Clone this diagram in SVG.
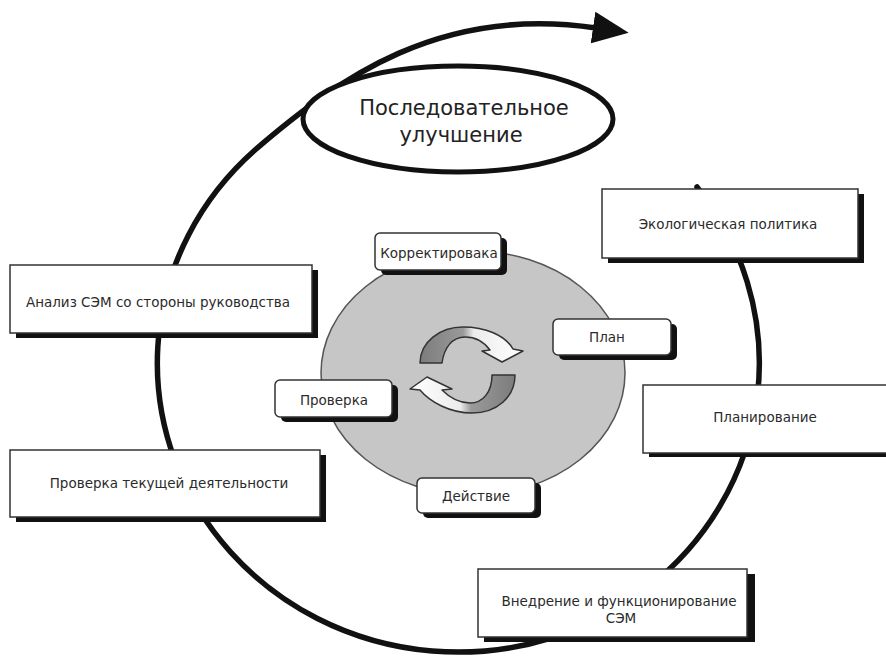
<svg xmlns="http://www.w3.org/2000/svg" width="886" height="659" viewBox="0 0 886 659">
<defs>
<style>
.lbl{font-family:"DejaVu Sans","Noto Sans",sans-serif;font-size:13.5px;fill:#2b2b2b;text-anchor:middle;dominant-baseline:central}
.ttl{font-family:"DejaVu Sans","Noto Sans",sans-serif;font-size:21px;fill:#222;text-anchor:middle}
.box{fill:#fff;stroke:#333;stroke-width:1.5}
.shd{fill:#111}
.loop{fill:none;stroke:#111;stroke-width:5.5;stroke-linecap:round}
.cyc{stroke:#333;stroke-width:1.5;stroke-linejoin:round}
</style>
<marker id="ah" markerUnits="userSpaceOnUse" viewBox="0 -17 38 34" refX="3" refY="0" markerWidth="38" markerHeight="34" orient="auto">
<path d="M0,-16 L36,0 L0,16 Z" fill="#111"/>
</marker>
<linearGradient id="gTop" x1="0" y1="0" x2="1" y2="0">
<stop offset="0" stop-color="#7c7c7c"/>
<stop offset="0.42" stop-color="#9a9a9a"/>
<stop offset="0.52" stop-color="#ececec"/>
<stop offset="1" stop-color="#ffffff"/>
</linearGradient>
<linearGradient id="gBot" x1="1" y1="0" x2="0" y2="0">
<stop offset="0" stop-color="#7c7c7c"/>
<stop offset="0.42" stop-color="#9a9a9a"/>
<stop offset="0.52" stop-color="#ececec"/>
<stop offset="1" stop-color="#ffffff"/>
</linearGradient>
</defs>
<rect width="886" height="659" fill="#fff"/>

<g id="connectors">
<path class="loop" d="M697,187 A301,289 0 1 1 255,150 C339,78 440,5 596,28" marker-end="url(#ah)"/>
</g>

<g id="improvement">
<ellipse cx="458" cy="119" rx="155" ry="53" fill="#fff" stroke="#111" stroke-width="5"/>
<text class="ttl" x="464" y="115">Последовательное</text>
<text class="ttl" x="461" y="142">улучшение</text>
</g>

<g id="pdca-core">
<ellipse cx="473" cy="373" rx="152" ry="122" fill="#c6c6c6" stroke="#555" stroke-width="1.5"/>
<path class="cyc" fill="url(#gTop)" d="M420,363 C420,342 440,327 463,327 C485,327 505,335 513,349 L523,351 L502,362 L482,351 L490,350 C484,342 475,337 465,337 C452,337 444,348 442,363 Z"/>
<path class="cyc" fill="url(#gBot)" d="M515,375 C515,397 497,413 472,413 C450,413 430,402 420,390 L410,389 L427,377 L452,389 L442,390 C450,398 460,403 470,403 C483,403 492,392 492,375 Z"/>
</g>

<g id="korr">
<rect class="shd" x="381" y="238" width="126" height="37" rx="5"/>
<rect class="box" x="375" y="233" width="126" height="37" rx="5"/>
<text class="lbl" x="439" y="253">Корректировака</text>
</g>
<g id="plan">
<rect class="shd" x="559" y="324" width="118" height="36" rx="5"/>
<rect class="box" x="553" y="319" width="118" height="36" rx="5"/>
<text class="lbl" x="607" y="337">План</text>
</g>
<g id="proverka">
<rect class="shd" x="281" y="385" width="117" height="37" rx="5"/>
<rect class="box" x="275" y="380" width="117" height="37" rx="5"/>
<text class="lbl" x="334" y="400">Проверка</text>
</g>
<g id="deystvie">
<rect class="shd" x="423" y="483" width="118" height="35" rx="5"/>
<rect class="box" x="417" y="478" width="118" height="35" rx="5"/>
<text class="lbl" x="476" y="496">Действие</text>
</g>

<g id="eco-policy">
<rect class="shd" x="608" y="194" width="256" height="69"/>
<rect class="box" x="602" y="189" width="256" height="69"/>
<text class="lbl" x="728" y="224">Экологическая политика</text>
</g>
<g id="planning">
<rect class="shd" x="649" y="389" width="260" height="68"/>
<rect class="box" x="643" y="385" width="260" height="68"/>
<text class="lbl" x="765" y="417">Планирование</text>
</g>
<g id="implementation">
<rect class="shd" x="484" y="574" width="271" height="68"/>
<rect class="box" x="478" y="569" width="269" height="68"/>
<text class="lbl" x="619" y="601">Внедрение и функционирование</text>
<text class="lbl" x="621" y="618">СЭМ</text>
</g>
<g id="check-current">
<rect class="shd" x="16" y="455" width="310" height="67"/>
<rect class="box" x="10" y="450" width="310" height="67"/>
<text class="lbl" x="169" y="483">Проверка текущей деятельности</text>
</g>
<g id="mgmt-review">
<rect class="shd" x="16" y="270" width="302" height="68"/>
<rect class="box" x="10" y="265" width="302" height="68"/>
<text class="lbl" x="158" y="302">Анализ СЭМ со стороны руководства</text>
</g>
</svg>
